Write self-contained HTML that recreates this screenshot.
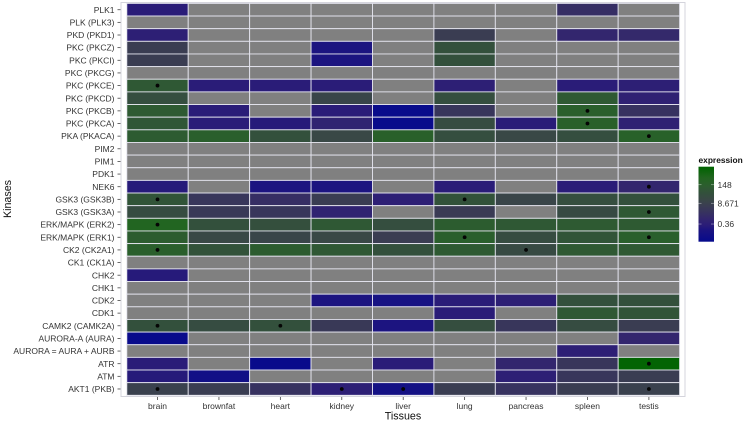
<!DOCTYPE html>
<html>
<head>
<meta charset="utf-8">
<title>Kinase expression heatmap</title>
<style>
html,body{margin:0;padding:0;background:#fff;}
svg{display:block;font-family:"Liberation Sans",sans-serif;}
</style>
</head>
<body>
<svg id="chart" xmlns="http://www.w3.org/2000/svg" width="744" height="422" viewBox="0 0 744 422">
<defs>
<linearGradient id="legend-gradient" x1="0" y1="1" x2="0" y2="0"></linearGradient>
</defs>
<rect x="0" y="0" width="744" height="422" fill="#ffffff"/>
<rect x="121" y="2.5" width="564" height="394" fill="#ffffff" stroke="#d4d4dc" stroke-width="1"/>
<g id="cells"></g>
<g id="dots"></g>
<g id="y-axis"></g>
<g id="x-axis"></g>
<text transform="translate(11,199) rotate(-90)" text-anchor="middle" font-size="10.7" fill="#111">Kinases</text>
<text x="403" y="419.5" text-anchor="middle" font-size="10.7" fill="#111">Tissues</text>
<g id="legend">
<text x="698.5" y="163" font-size="8.4" font-weight="bold" fill="#111">expression</text>
<rect x="698.5" y="166.7" width="15.5" height="75" fill="url(#legend-gradient)"/>
</g>
</svg>
<script>
const tissues = ["brain","brownfat","heart","kidney","liver","lung","pancreas","spleen","testis"];
const kinases = ["PLK1","PLK (PLK3)","PKD (PKD1)","PKC (PKCZ)","PKC (PKCI)","PKC (PKCG)","PKC (PKCE)","PKC (PKCD)","PKC (PKCB)","PKC (PKCA)","PKA (PKACA)","PIM2","PIM1","PDK1","NEK6","GSK3 (GSK3B)","GSK3 (GSK3A)","ERK/MAPK (ERK2)","ERK/MAPK (ERK1)","CK2 (CK2A1)","CK1 (CK1A)","CHK2","CHK1","CDK2","CDK1","CAMK2 (CAMK2A)","AURORA-A (AURA)","AURORA = AURA + AURB","ATR","ATM","AKT1 (PKB)"];
const N = null;
const expression = [
[0.3,N,N,N,N,N,N,1.5,N],
[N,N,N,N,N,N,N,N,N],
[0.4,N,N,N,N,6,N,0.8,1],
[6,N,N,0.15,N,40,N,N,N],
[6,N,N,0.15,N,40,N,N,N],
[N,N,N,N,N,N,N,N,N],
[80,0.3,0.3,0.3,N,0.4,N,0.3,0.4],
[30,N,N,12,N,30,N,90,0.5],
[100,0.3,N,0.3,0.03,3,N,150,2],
[70,0.3,0.25,0.6,0.03,25,0.3,170,0.5],
[110,150,40,15,170,30,15,30,200],
[N,N,N,N,N,N,N,N,N],
[N,N,N,N,N,N,N,N,N],
[N,N,N,N,N,N,N,N,N],
[0.25,N,0.15,0.15,N,0.3,N,0.3,0.8],
[60,3,1.5,6,0.4,50,12,30,40],
[25,4,3,0.6,N,5,N,20,80],
[400,40,35,80,30,120,80,100,100],
[120,15,12,15,6,150,25,60,150],
[150,50,120,80,40,100,20,90,90],
[N,N,N,N,N,N,N,N,N],
[0.25,N,N,N,N,N,N,N,N],
[N,N,N,N,N,N,N,N,N],
[N,N,N,0.15,0.1,0.3,0.4,40,40],
[N,N,N,N,N,0.3,N,80,60],
[40,25,40,4,0.15,30,3,25,6],
[0.03,N,N,N,N,N,N,N,0.8],
[N,N,N,N,N,N,N,0.4,N],
[0.3,N,0.03,N,0.3,N,0.8,3,2000],
[0.25,0.06,N,N,N,N,0.4,3,6],
[8,6,2,0.4,0.08,6,2,6,8]
];
const significantKinases = ["PKC (PKCE)","PKC (PKCB)","PKC (PKCA)","PKA (PKACA)","NEK6","GSK3 (GSK3B)","GSK3 (GSK3B)","GSK3 (GSK3A)","ERK/MAPK (ERK2)","ERK/MAPK (ERK1)","ERK/MAPK (ERK1)","CK2 (CK2A1)","CK2 (CK2A1)","CAMK2 (CAMK2A)","CAMK2 (CAMK2A)","ATR","AKT1 (PKB)","AKT1 (PKB)","AKT1 (PKB)","AKT1 (PKB)"];
const significantTissues = ["brain","spleen","spleen","testis","testis","brain","lung","testis","brain","lung","testis","brain","pancreas","brain","heart","testis","brain","kidney","liver","testis"];
const legendTicks = [148,8.671,0.36];
const legendTickLabels = ["148","8.671","0.36"];
const domainMin = 0.024;
const domainMax = 2350;

const SVGNS = "http://www.w3.org/2000/svg";
const plot = {left:126.8, right:679.6, top:3.4, bottom:395.3};
const bar = {top:166.7, bottom:241.7, left:698.5, right:714};
const stepX = (plot.right - plot.left) / tissues.length;
const stepY = (plot.bottom - plot.top) / kinases.length;
const xScale = i => plot.left + stepX * (i + 0.5);
const yScale = i => plot.top + stepY * (i + 0.5);
const fracScale = v => (Math.log10(v) - Math.log10(domainMin)) / (Math.log10(domainMax) - Math.log10(domainMin));
const legendY = v => bar.bottom - fracScale(v) * (bar.bottom - bar.top);
const ramp = [[0,[6,10,140]],[0.16,[28,20,128]],[0.22,[42,28,120]],[0.305,[51,38,110]],[0.385,[55,50,96]],[0.48,[58,61,82]],[0.56,[57,72,70]],[0.645,[51,80,60]],[0.725,[46,90,50]],[0.76,[42,95,44]],[0.85,[34,101,32]],[1,[0,100,0]]];
function toHex(c){return "#"+c.map(x=>Math.round(x).toString(16).padStart(2,"0")).join("");}
function colorScale(v){
  if (v === null) return "#808080";
  const t = Math.max(0, Math.min(1, fracScale(v)));
  for (let i = 1; i < ramp.length; i++) {
    if (t <= ramp[i][0]) {
      const a = ramp[i-1], b = ramp[i], f = (t - a[0]) / (b[0] - a[0]);
      return toHex(a[1].map((x,k)=>x + (b[1][k]-x)*f));
    }
  }
  return toHex(ramp[ramp.length-1][1]);
}
function make(tag, attrs, parent, text){
  const el = document.createElementNS(SVGNS, tag);
  for (const k in attrs) el.setAttribute(k, attrs[k]);
  if (text !== undefined) el.textContent = text;
  parent.appendChild(el);
  return el;
}
const gradient = document.getElementById("legend-gradient");
ramp.forEach(s => {
  make("stop", {offset:s[0], "stop-color":toHex(s[1])}, gradient);
});

const cellsG = document.getElementById("cells");
expression.forEach((row, r) => {
  row.forEach((v, c) => {
    const cell = make("rect", {x:xScale(c)-stepX/2, y:yScale(r)-stepY/2, width:stepX, height:stepY, fill:colorScale(v), stroke:"#e4e4ee", "stroke-width":0.9}, cellsG);
    
    
  });
});

const dotsG = document.getElementById("dots");
significantKinases.forEach((k, i) => {
  const dot = make("circle", {cx:xScale(tissues.indexOf(significantTissues[i])), cy:yScale(kinases.indexOf(k)), r:1.9, fill:"#050505"}, dotsG);
  
  
});

const yG = document.getElementById("y-axis");
kinases.forEach((k, r) => {
  const tick = make("line", {x1:117.5, x2:120.5, y1:yScale(r), y2:yScale(r), stroke:"#444", "stroke-width":0.8}, yG);
  
  
  const label = make("text", {x:114.5, y:yScale(r)+3.1, "text-anchor":"end", "font-size":8.5, fill:"#333333"}, yG, k);
  
  
});

const xG = document.getElementById("x-axis");
tissues.forEach((t, c) => {
  const tick = make("line", {x1:xScale(c), x2:xScale(c), y1:397, y2:400, stroke:"#444", "stroke-width":0.8}, xG);
  
  
  const label = make("text", {x:xScale(c), y:409, "text-anchor":"middle", "font-size":8.5, fill:"#333333"}, xG, t);
  
  
});

const legendG = document.getElementById("legend");
legendTicks.forEach((v, i) => {
  const y = legendY(v);
  const t1 = make("line", {x1:bar.left, x2:bar.left+3, y1:y, y2:y, stroke:"#ffffff", "stroke-width":0.6, opacity:0.6}, legendG);
  
  
  const t2 = make("line", {x1:bar.right-3, x2:bar.right, y1:y, y2:y, stroke:"#ffffff", "stroke-width":0.6, opacity:0.6}, legendG);
  
  
  const label = make("text", {x:717.5, y:y+3.1, "font-size":8.5, fill:"#333333"}, legendG, legendTickLabels[i]);
  
  
});
</script>
</body>
</html>
